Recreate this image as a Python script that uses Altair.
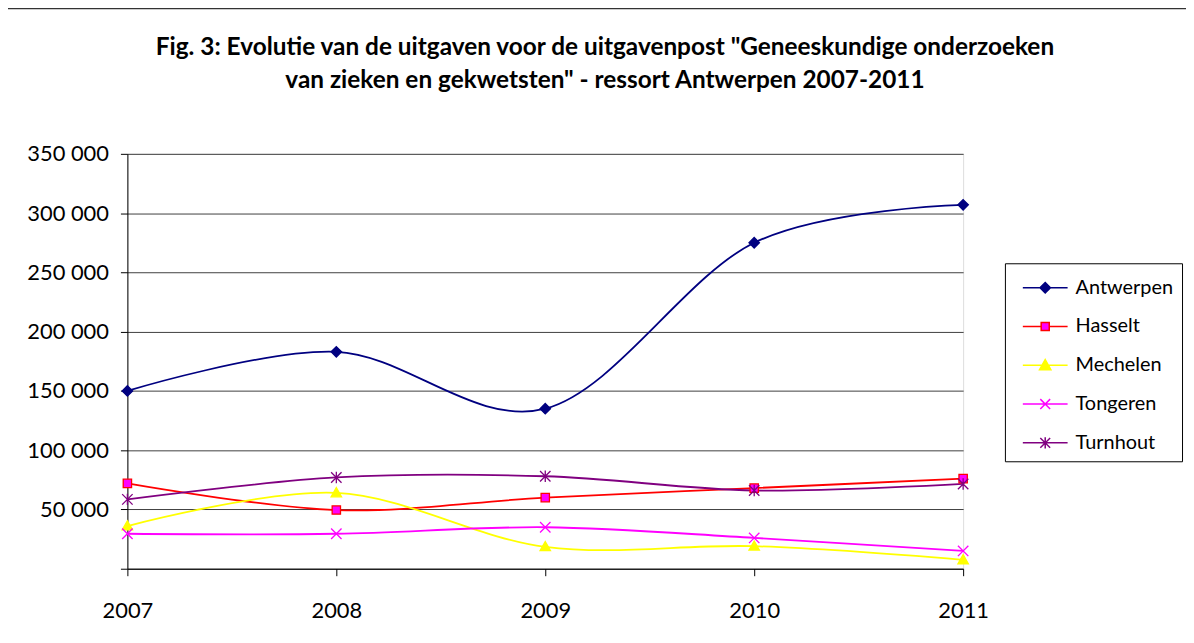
import altair as alt
import pandas as pd

# ---- data ----
jaren = [2007, 2008, 2009, 2010, 2011]
ressorts = ["Antwerpen", "Hasselt", "Mechelen", "Tongeren", "Turnhout"]
antwerpen = [150000, 183000, 135000, 275000, 307000]
hasselt = [72000, 49500, 60000, 68000, 76000]
mechelen = [36000, 64000, 18500, 19000, 7500]
tongeren = [29500, 29500, 35000, 26000, 15000]
turnhout = [58500, 77000, 78000, 66000, 71500]
y_ticks = [0, 50000, 100000, 150000, 200000, 250000, 300000, 350000]
titel = [
    'Fig. 3: Evolutie van de uitgaven voor de uitgavenpost "Geneeskundige onderzoeken',
    'van zieken en gekwetsten" - ressort Antwerpen 2007-2011',
]

# ---- styles ----
lijnkleuren = ["#000080", "#FF0000", "#FFFF00", "#FF00FF", "#800080"]
vulkleuren = ["#000080", "#FF00FF", "#FFFF00", "transparent", "transparent"]
markerpaden = [
    "M0,-1L1,0L0,1L-1,0Z",
    "M-0.8,-0.8L0.8,-0.8L0.8,0.8L-0.8,0.8Z",
    "M0,-1L1,0.75L-1,0.75Z",
    "M-1,-1L1,1M-1,1L1,-1",
    "M-1,-1L1,1M-1,1L1,-1M0,-1.1L0,1.1",
]
legendpaden = [
    "M-1.5,0L1.5,0M0,-0.35L0.35,0L0,0.35L-0.35,0Z",
    "M-1.5,0L-0.27,0M0.27,0L1.5,0M-0.27,-0.27L0.27,-0.27L0.27,0.27L-0.27,0.27Z",
    "M-1.5,0L1.5,0M0,-0.38L0.38,0.3L-0.38,0.3Z",
    "M-1.5,0L1.5,0M-0.33,-0.33L0.33,0.33M-0.33,0.33L0.33,-0.33",
    "M-1.5,0L1.5,0M-0.33,-0.33L0.33,0.33M-0.33,0.33L0.33,-0.33M0,-0.38L0,0.38",
]

rows = []
for naam, reeks in zip(ressorts, [antwerpen, hasselt, mechelen, tongeren, turnhout]):
    for j, v in zip(jaren, reeks):
        rows.append({"jaar": j, "waarde": v, "Regio": naam})
df = pd.DataFrame(rows)
leg_df = pd.DataFrame({"Legende": ressorts, "jaar": [None] * 5, "waarde": [None] * 5})

FONT = "Lato"

x = alt.X(
    "jaar:Q",
    scale=alt.Scale(domain=[2007, 2011], nice=False, zero=False),
    axis=alt.Axis(
        values=jaren, format="d", title=None, grid=False,
        labelFont=FONT, labelFontSize=22, labelColor="black",
        tickColor="black", tickSize=7, domainColor="black",
        labelPadding=25, labelFlush=False,
    ),
)
y = alt.Y(
    "waarde:Q",
    scale=alt.Scale(domain=[0, 350000], nice=False),
    axis=alt.Axis(
        values=y_ticks, title=None, grid=True, gridColor="#404040", gridWidth=1,
        labelExpr="datum.value == 0 ? '' : replace(format(datum.value, ','), ',', ' ')",
        labelFont=FONT, labelFontSize=22, labelColor="black",
        tickColor="black", tickSize=7, domainColor="black", labelPadding=12,
    ),
)

lijnen = alt.Chart(df).mark_line(interpolate="cardinal", strokeWidth=1.8).encode(
    x=x, y=y,
    color=alt.Color("Regio:N", scale=alt.Scale(domain=ressorts, range=lijnkleuren), legend=None),
    detail="Regio:N",
)

markers = alt.Chart(df).mark_point(filled=True, size=110, strokeWidth=1.3, opacity=1).encode(
    x=x, y=y,
    shape=alt.Shape("Regio:N", scale=alt.Scale(domain=ressorts, range=markerpaden), legend=None),
    stroke=alt.Stroke("Regio:N", scale=alt.Scale(domain=ressorts, range=lijnkleuren), legend=None),
    fill=alt.Fill("Regio:N", scale=alt.Scale(domain=ressorts, range=vulkleuren), legend=None),
)

leg_params = dict(
    title=None, orient="none", legendX=882, legendY=110,
    symbolSize=900, symbolStrokeWidth=1.5, symbolOffset=16,
    labelFont=FONT, labelFontSize=20, labelColor="black", labelOffset=14.5,
    labelLimit=0, padding=8.5, rowPadding=13,
    strokeColor="black", fillColor="white",
)
legende = alt.Chart(leg_df).mark_point(filled=True, strokeWidth=1.5, opacity=1, invalid="filter").encode(
    x=x, y=y,
    shape=alt.Shape("Legende:N", scale=alt.Scale(domain=ressorts, range=legendpaden), legend=alt.Legend(**leg_params)),
    stroke=alt.Stroke("Legende:N", scale=alt.Scale(domain=ressorts, range=lijnkleuren), legend=alt.Legend(**leg_params)),
    fill=alt.Fill("Legende:N", scale=alt.Scale(domain=ressorts, range=vulkleuren), legend=alt.Legend(**leg_params)),
)

kader_df = pd.DataFrame({"k": [0]})
kader_links = alt.Chart(kader_df).mark_rule(color="#333333", strokeWidth=1.5).encode(
    x=alt.value(-121), y=alt.value(-146), y2=alt.value(700)
)
kader_boven = alt.Chart(kader_df).mark_rule(color="#333333", strokeWidth=1.5).encode(
    x=alt.value(-121), x2=alt.value(1200), y=alt.value(-146)
)

chart = (
    alt.layer(lijnen, markers, legende, kader_links, kader_boven)
    .resolve_scale(shape="independent", stroke="independent", fill="independent")
    .properties(
        width=840,
        height=417,
        autosize=alt.AutoSizeParams(type="none"),
        padding={"left": 120, "top": 145, "right": 224, "bottom": 60},
        title=alt.TitleParams(
            text=titel, font=FONT, fontSize=24.5, fontWeight="bold", color="black",
            anchor="middle", dx=60, offset=0, dy=105, baseline="alphabetic", lineHeight=33,
        ),
    )
    .configure_view(stroke="#808080", strokeWidth=1)
    .configure(background="white")
)

chart.save("out.html", embed_options={"renderer": "svg", "actions": False})
